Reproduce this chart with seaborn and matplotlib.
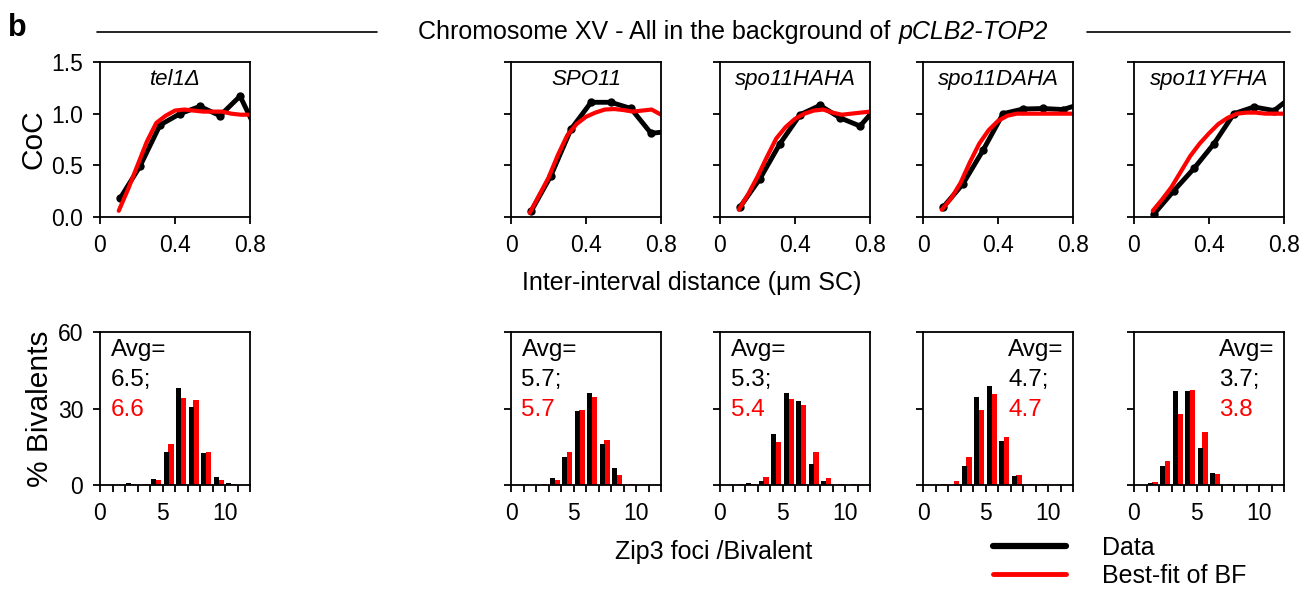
import matplotlib
matplotlib.use("Agg")
import matplotlib.pyplot as plt
from matplotlib.lines import Line2D
import seaborn as sns
import numpy as np

sns.set_style("ticks")
plt.rcParams['font.family'] = ['Liberation Sans', 'DejaVu Sans']
plt.rcParams.update({'text.color': 'black', 'axes.labelcolor': 'black',
                     'xtick.color': 'black', 'ytick.color': 'black',
                     'axes.edgecolor': 'black'})

# --- data ---
strains = ['tel1\u0394', 'SPO11', 'spo11HAHA', 'spo11DAHA', 'spo11YFHA']

# CoC (top row): observed data points and best-fit curve
dist = [0.107, 0.213, 0.32, 0.427, 0.533, 0.64, 0.747, 0.853]
coc_data = {
    'tel1\u0394': [0.18, 0.49, 0.89, 1.00, 1.07, 0.98, 1.17, 0.77],
    'SPO11':      [0.055, 0.40, 0.85, 1.11, 1.11, 1.05, 0.81, 0.83],
    'spo11HAHA':  [0.097, 0.37, 0.71, 0.99, 1.08, 0.96, 0.88, 1.10],
    'spo11DAHA':  [0.094, 0.32, 0.645, 1.00, 1.045, 1.05, 1.04, 1.10],
    'spo11YFHA':  [0.03, 0.255, 0.47, 0.71, 1.00, 1.065, 1.03, 1.18],
}
fit_dist = [0.1, 0.15, 0.2, 0.25, 0.3, 0.35, 0.4, 0.45, 0.5, 0.55, 0.6, 0.65, 0.7, 0.75, 0.8]
coc_fit = {
    'tel1\u0394': [0.06, 0.27, 0.50, 0.73, 0.91, 0.98, 1.03, 1.04, 1.03, 1.02, 1.02, 1.02, 1.00, 0.99, 0.99],
    'SPO11':      [0.04, 0.21, 0.38, 0.60, 0.79, 0.90, 0.97, 1.01, 1.04, 1.045, 1.035, 1.02, 1.03, 1.04, 0.99],
    'spo11HAHA':  [0.07, 0.22, 0.39, 0.58, 0.76, 0.87, 0.95, 1.00, 1.03, 1.04, 1.01, 0.99, 1.00, 1.01, 1.02],
    'spo11DAHA':  [0.07, 0.18, 0.33, 0.53, 0.71, 0.84, 0.93, 0.98, 1.00, 1.00, 1.00, 1.00, 1.00, 1.00, 1.00],
    'spo11YFHA':  [0.06, 0.17, 0.29, 0.44, 0.59, 0.71, 0.81, 0.90, 0.96, 1.00, 1.01, 1.01, 1.00, 1.00, 1.00],
}

# Zip3 foci distributions (bottom row), % bivalents
foci = np.arange(12)
pct_data = {
    'tel1\u0394': [0, 0, 0.65, 0, 2.3, 13.0, 38.2, 30.4, 12.4, 3.1, 0.8, 0],
    'SPO11':      [0, 0, 0, 2.7, 11.0, 29.2, 35.9, 15.9, 6.5, 0, 0, 0],
    'spo11HAHA':  [0, 0, 0.6, 1.4, 20.0, 36.1, 33.1, 8.3, 1.4, 0, 0, 0],
    'spo11DAHA':  [0, 0, 0, 7.3, 34.5, 38.7, 17.1, 3.7, 0, 0, 0, 0],
    'spo11YFHA':  [0, 0.65, 7.4, 36.9, 36.8, 14.5, 4.8, 0, 0, 0, 0, 0],
}
pct_fit = {
    'tel1\u0394': [0, 0, 0.4, 0.3, 2.1, 15.9, 34.3, 33.5, 12.8, 2.0, 0.4, 0],
    'SPO11':      [0, 0, 0.3, 2.1, 12.8, 29.3, 34.7, 17.5, 4.0, 0.5, 0, 0],
    'spo11HAHA':  [0, 0.2, 0.5, 3.3, 17.0, 33.9, 31.3, 12.8, 2.7, 0.4, 0.4, 0],
    'spo11DAHA':  [0, 0.2, 1.7, 11.1, 29.5, 35.6, 18.9, 3.9, 0.4, 0.4, 0, 0],
    'spo11YFHA':  [0, 1.3, 9.5, 27.9, 37.2, 20.6, 4.2, 0.5, 0, 0, 0, 0],
}
avg_data = ['6.5', '5.7', '5.3', '4.7', '3.7']
avg_fit = ['6.6', '5.7', '5.4', '4.7', '3.8']

# --- layout (pixels of a 1304x590 figure) ---
W, H = 1304, 590
fig = plt.figure(figsize=(W / 100, H / 100), dpi=100)
lefts = [100, 511, 720, 923, 1134]
pw = 150
FS = 16.5
BIG = 18


def px_ax(left, top, bottom):
    return fig.add_axes([left / W, 1 - bottom / H, pw / W, (bottom - top) / H])


def style(ax):
    for s in ax.spines.values():
        s.set_linewidth(1.3)
        s.set_visible(True)
    ax.tick_params(width=1.3, length=5, labelsize=FS, pad=7)


for i, st in enumerate(strains):
    # top: CoC curves
    ax = px_ax(lefts[i], 62, 217)
    sns.lineplot(x=dist, y=coc_data[st], ax=ax, color='black', lw=3.5,
                 marker='o', markersize=6, markeredgewidth=0)
    sns.lineplot(x=fit_dist, y=coc_fit[st], ax=ax, color='red', lw=3)
    ax.set_xlim(0, 0.8)
    ax.set_ylim(0, 1.5)
    ax.set_xticks([0, 0.4, 0.8])
    ax.set_xticklabels(['0', '0.4', '0.8'])
    ax.set_yticks([0, 0.5, 1.0, 1.5])
    style(ax)
    ax.text(0.5, 0.85, st, transform=ax.transAxes, ha='center', va='baseline',
            fontsize=16, style='italic')
    if i == 0:
        ax.set_yticklabels(['0.0', '0.5', '1.0', '1.5'])
        ax.set_ylabel('CoC', fontsize=21.5, labelpad=3)
    else:
        ax.tick_params(labelleft=False)

    # bottom: foci distributions (fit behind, data in front)
    bx = px_ax(lefts[i], 332, 485)
    sns.barplot(x=foci + 0.67, y=pct_fit[st], native_scale=True, color='red',
                saturation=1, width=0.45, errorbar=None, linewidth=0, ax=bx)
    sns.barplot(x=foci + 0.3, y=pct_data[st], native_scale=True, color='black',
                saturation=1, width=0.4, errorbar=None, linewidth=0, ax=bx)
    bx.set_xlim(0, 12)
    bx.set_ylim(0, 60)
    bx.set_xticks(range(13))
    bx.set_xticklabels([str(t) if t % 5 == 0 else '' for t in range(13)])
    bx.set_yticks([0, 30, 60])
    style(bx)
    if i == 0:
        bx.set_ylabel('% Bivalents', fontsize=21.5, labelpad=3)
    else:
        bx.tick_params(labelleft=False)
    tx = 0.07 if i < 3 else 0.567
    bx.text(tx, 0.843, 'Avg=', transform=bx.transAxes, fontsize=17.5, va='baseline')
    bx.text(tx, 0.647, avg_data[i] + ';', transform=bx.transAxes, fontsize=17.5,
            va='baseline')
    bx.text(tx, 0.451, avg_fit[i], transform=bx.transAxes, fontsize=17.5,
            va='baseline', color='red')

# shared labels and header
fig.text(692 / W, 1 - 283 / H, 'Inter-interval distance (\u03bcm SC)', ha='center',
         va='center', fontsize=BIG)
fig.text(714 / W, 1 - 552 / H, 'Zip3 foci /Bivalent', ha='center', va='center',
         fontsize=BIG)
fig.text(8 / W, 1 - 28 / H, 'b', fontsize=22, fontweight='bold', va='center')
fig.text(897 / W, 1 - 32 / H, 'Chromosome XV - All in the background of ', ha='right',
         va='center', fontsize=BIG)
fig.text(899 / W, 1 - 32 / H, 'pCLB2-TOP2', ha='left', va='center', fontsize=BIG,
         style='italic')
fig.add_artist(Line2D([97 / W, 377 / W], [1 - 32 / H] * 2, color='black', lw=1.2))
fig.add_artist(Line2D([1087 / W, 1290 / W], [1 - 32 / H] * 2, color='black', lw=1.2))

handles = [Line2D([], [], color='black', lw=4.5), Line2D([], [], color='red', lw=3.5)]
fig.legend(handles, ['Data', 'Best-fit of BF'], loc='upper left',
           bbox_to_anchor=(993 / W, 1 - 536 / H), frameon=False, fontsize=BIG,
           handlelength=2.9, handletextpad=1.45, labelspacing=0.15,
           borderpad=0, borderaxespad=0)

fig.savefig('out.png', dpi=100)
